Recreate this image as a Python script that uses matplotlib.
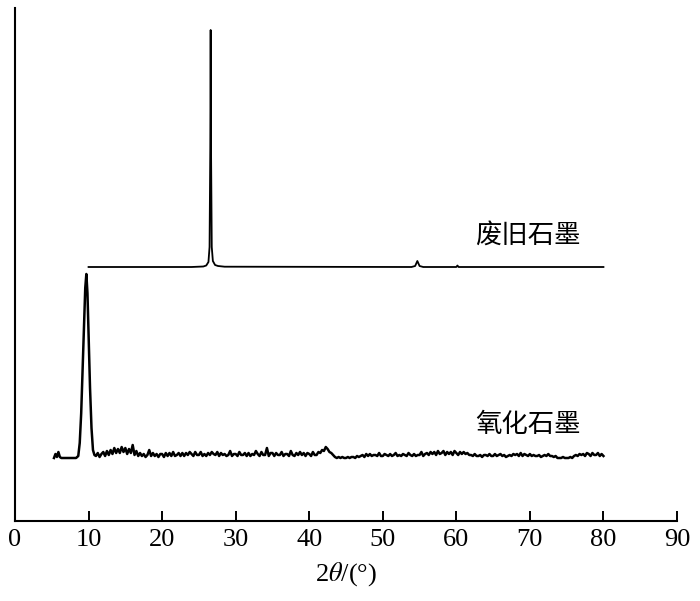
import numpy as np
import matplotlib
matplotlib.use("Agg")
import matplotlib.pyplot as plt

plt.rcParams["font.family"] = ["Liberation Serif", "DejaVu Serif"]
plt.rcParams["mathtext.fontset"] = "stix"

# waste graphite trace: 2theta and height above its own baseline
wg_x = [10, 24, 25.6, 26.0, 26.3, 26.45, 26.55, 26.6, 26.65, 26.75, 26.9, 27.2,
        27.6, 28.5, 53.9, 54.4, 54.7, 55.0, 55.5, 60.0, 60.15, 60.3, 80]
wg_h = [0, 0, 0.5, 1.5, 5, 20, 120, 237, 120, 20, 6, 2,
        1, 0.3, 0, 1, 6, 1, 0, 0, 1.5, 0, 0]
wg_base = 254

# graphite oxide: start + main peak
go_peak_x = [5.3, 5.5, 5.7, 5.9, 6.1, 6.3, 7.5, 8.3, 8.6, 8.8, 9.0, 9.2, 9.4,
             9.55, 9.7, 9.85, 10.0, 10.2, 10.4, 10.6, 10.8]
go_peak_h = [0, 4, 1, 6, 1, 0, 0, 0, 2, 15, 45, 90, 135,
             170, 184, 165, 125, 70, 30, 8, 3]
# graphite oxide: noisy part from 11 to 80 in 0.25 steps
go_noise_start, go_noise_step = 11.0, 0.25
go_noise_h = [
    2, 5, 1, 4, 6, 2, 7, 3, 8, 4, 10, 5, 9, 5, 11, 6, 10, 4, 9, 5,
    13, 3, 7, 2, 5, 2, 4, 1, 3, 8, 2, 5, 2, 4, 1, 4, 4, 1, 5, 2,
    5, 2, 6, 2, 3, 5, 2, 5, 2, 5, 3, 6, 4, 2, 6, 3, 3, 6, 2, 4,
    2, 5, 3, 6, 4, 3, 6, 2, 5, 3, 4, 2, 3, 7, 2, 4, 4, 2, 6, 3,
    3, 5, 2, 5, 2, 4, 3, 7, 4, 2, 6, 3, 3, 10, 2, 5, 5, 2, 5, 3,
    3, 6, 2, 4, 4, 2, 7, 3, 2, 5, 3, 6, 3, 5, 2, 5, 4, 2, 6, 3,
    3, 6, 5, 8, 7, 11, 9, 6, 5, 3, 1, 0, 1, 0, 1, 0, 0, 1, 0, 1,
    1, 0, 2, 1, 2, 3, 1, 4, 2, 4, 2, 3, 3, 2, 5, 2, 2, 4, 3, 2,
    4, 2, 3, 5, 2, 3, 2, 4, 3, 2, 5, 3, 2, 4, 2, 3, 3, 6, 2, 4,
    5, 3, 6, 4, 6, 3, 7, 4, 5, 7, 3, 6, 4, 6, 3, 7, 5, 3, 6, 4,
    6, 4, 5, 3, 3, 2, 4, 2, 2, 3, 1, 3, 3, 2, 4, 2, 2, 4, 2, 3,
    4, 2, 3, 1, 2, 3, 2, 4, 3, 4, 2, 5, 2, 4, 3, 2, 4, 2, 3, 2,
    2, 3, 1, 2, 3, 2, 4, 2, 2, 1, 2, 0, 0, 0, 1, 0, 0, 0, 1, 0,
    2, 3, 2, 4, 3, 4, 2, 5, 4, 2, 5, 3, 3, 5, 2, 4, 2,
]
go_base = 63

labels = ["废旧石墨", "氧化石墨"]
xticks = [0, 10, 20, 30, 40, 50, 60, 70, 80, 90]

go_noise_x = go_noise_start + go_noise_step * np.arange(len(go_noise_h))
go_x = np.concatenate([go_peak_x, go_noise_x])
go_h = np.concatenate([go_peak_h, go_noise_h])

fig = plt.figure(figsize=(7.0, 6.01), dpi=100)
ax = fig.add_axes([15 / 700, 80 / 601, 662 / 700, 513 / 601])

ax.plot(wg_x, np.array(wg_h) + wg_base, color="black", lw=1.3)
ax.plot(go_x, go_h + go_base, color="black", lw=1.8)

ax.set_xlim(0, 90)
ax.set_ylim(0, 513)
ax.set_xticks(xticks)
ax.set_yticks([])
ax.tick_params(axis="x", direction="in", length=7, width=1.4, labelsize=19, pad=6)
for s in ["top", "right"]:
    ax.spines[s].set_visible(False)
for s in ["left", "bottom"]:
    ax.spines[s].set_linewidth(1.5)

ax.set_xlabel(r"2$\theta$/(°)", fontsize=19, labelpad=6)

cjk = ["Noto Sans CJK SC", "DejaVu Sans"]
ax.text(62.5, 286, labels[0], fontsize=19, family=cjk, va="center", ha="left",
        fontweight="light")
ax.text(62.5, 97, labels[1], fontsize=19, family=cjk, va="center", ha="left",
        fontweight="light")

fig.savefig("out.png", dpi=100)
